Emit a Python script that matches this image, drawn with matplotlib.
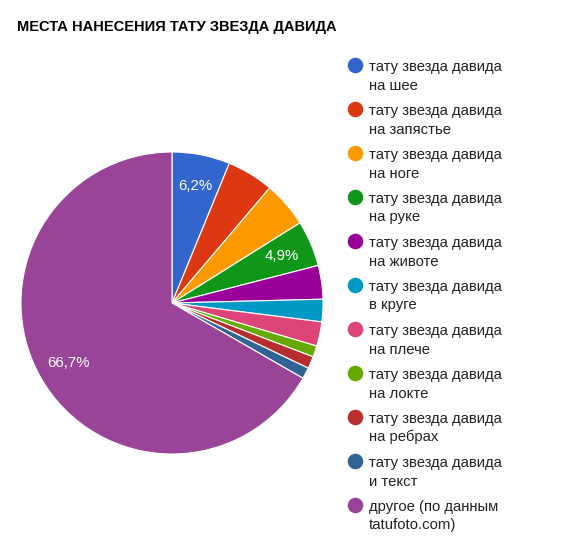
import matplotlib
matplotlib.use("Agg")
import matplotlib.pyplot as plt

title = "МЕСТА НАНЕСЕНИЯ ТАТУ ЗВЕЗДА ДАВИДА"
categories = [
    "тату звезда давида\nна шее",
    "тату звезда давида\nна запястье",
    "тату звезда давида\nна ноге",
    "тату звезда давида\nна руке",
    "тату звезда давида\nна животе",
    "тату звезда давида\nв круге",
    "тату звезда давида\nна плече",
    "тату звезда давида\nна локте",
    "тату звезда давида\nна ребрах",
    "тату звезда давида\nи текст",
    "другое (по данным\ntatufoto.com)",
]
values = [6.2, 5.0, 4.9, 4.9, 3.6, 2.4, 2.6, 1.2, 1.3, 1.2, 66.7]
show_label = [True, False, False, True, False, False, False, False, False, False, True]
colors = ["#3366cc", "#dc3912", "#ff9900", "#109618", "#990099", "#0099c6",
          "#dd4477", "#66aa00", "#b82e2e", "#316395", "#994499"]

W, H = 575, 547
fig = plt.figure(figsize=(W / 100, H / 100), dpi=100)
plt.rcParams['font.family'] = ['Liberation Sans', 'DejaVu Sans']

cx, cy, r = 172, 303, 151
ax = fig.add_axes([(cx - r) / W, (H - cy - r) / H, 2 * r / W, 2 * r / H])
wedges, texts, autotexts = ax.pie(
    values, colors=colors, startangle=90, counterclock=False,
    autopct=lambda p: f"{p:.1f}".replace(".", ",") + "%",
    pctdistance=0.79,
    wedgeprops=dict(edgecolor="white", linewidth=0.8),
    textprops=dict(color="white", fontsize=10.8),
)
for t, s in zip(autotexts, show_label):
    t.set_visible(s)
ax.set_xlim(-1, 1)
ax.set_ylim(-1, 1)
ax.set_axis_off()

ov = fig.add_axes([0, 0, 1, 1])
ov.set_xlim(0, W)
ov.set_ylim(H, 0)
ov.set_axis_off()
ov.patch.set_alpha(0)

ov.text(17, 31.5, title, fontsize=10.5, fontweight="bold", color="#000000",
        va="baseline", ha="left")

for i, (lab, col) in enumerate(zip(categories, colors)):
    y0 = 65 + 44 * i
    ov.plot([355], [y0], marker="o", markersize=10.2, color=col, linestyle="none")
    for j, line in enumerate(lab.split("\n")):
        ov.text(369, y0 + 5.5 + 19 * j, line, fontsize=10.7, color="#222222",
                va="baseline", ha="left")

fig.savefig("out.png", dpi=100)
